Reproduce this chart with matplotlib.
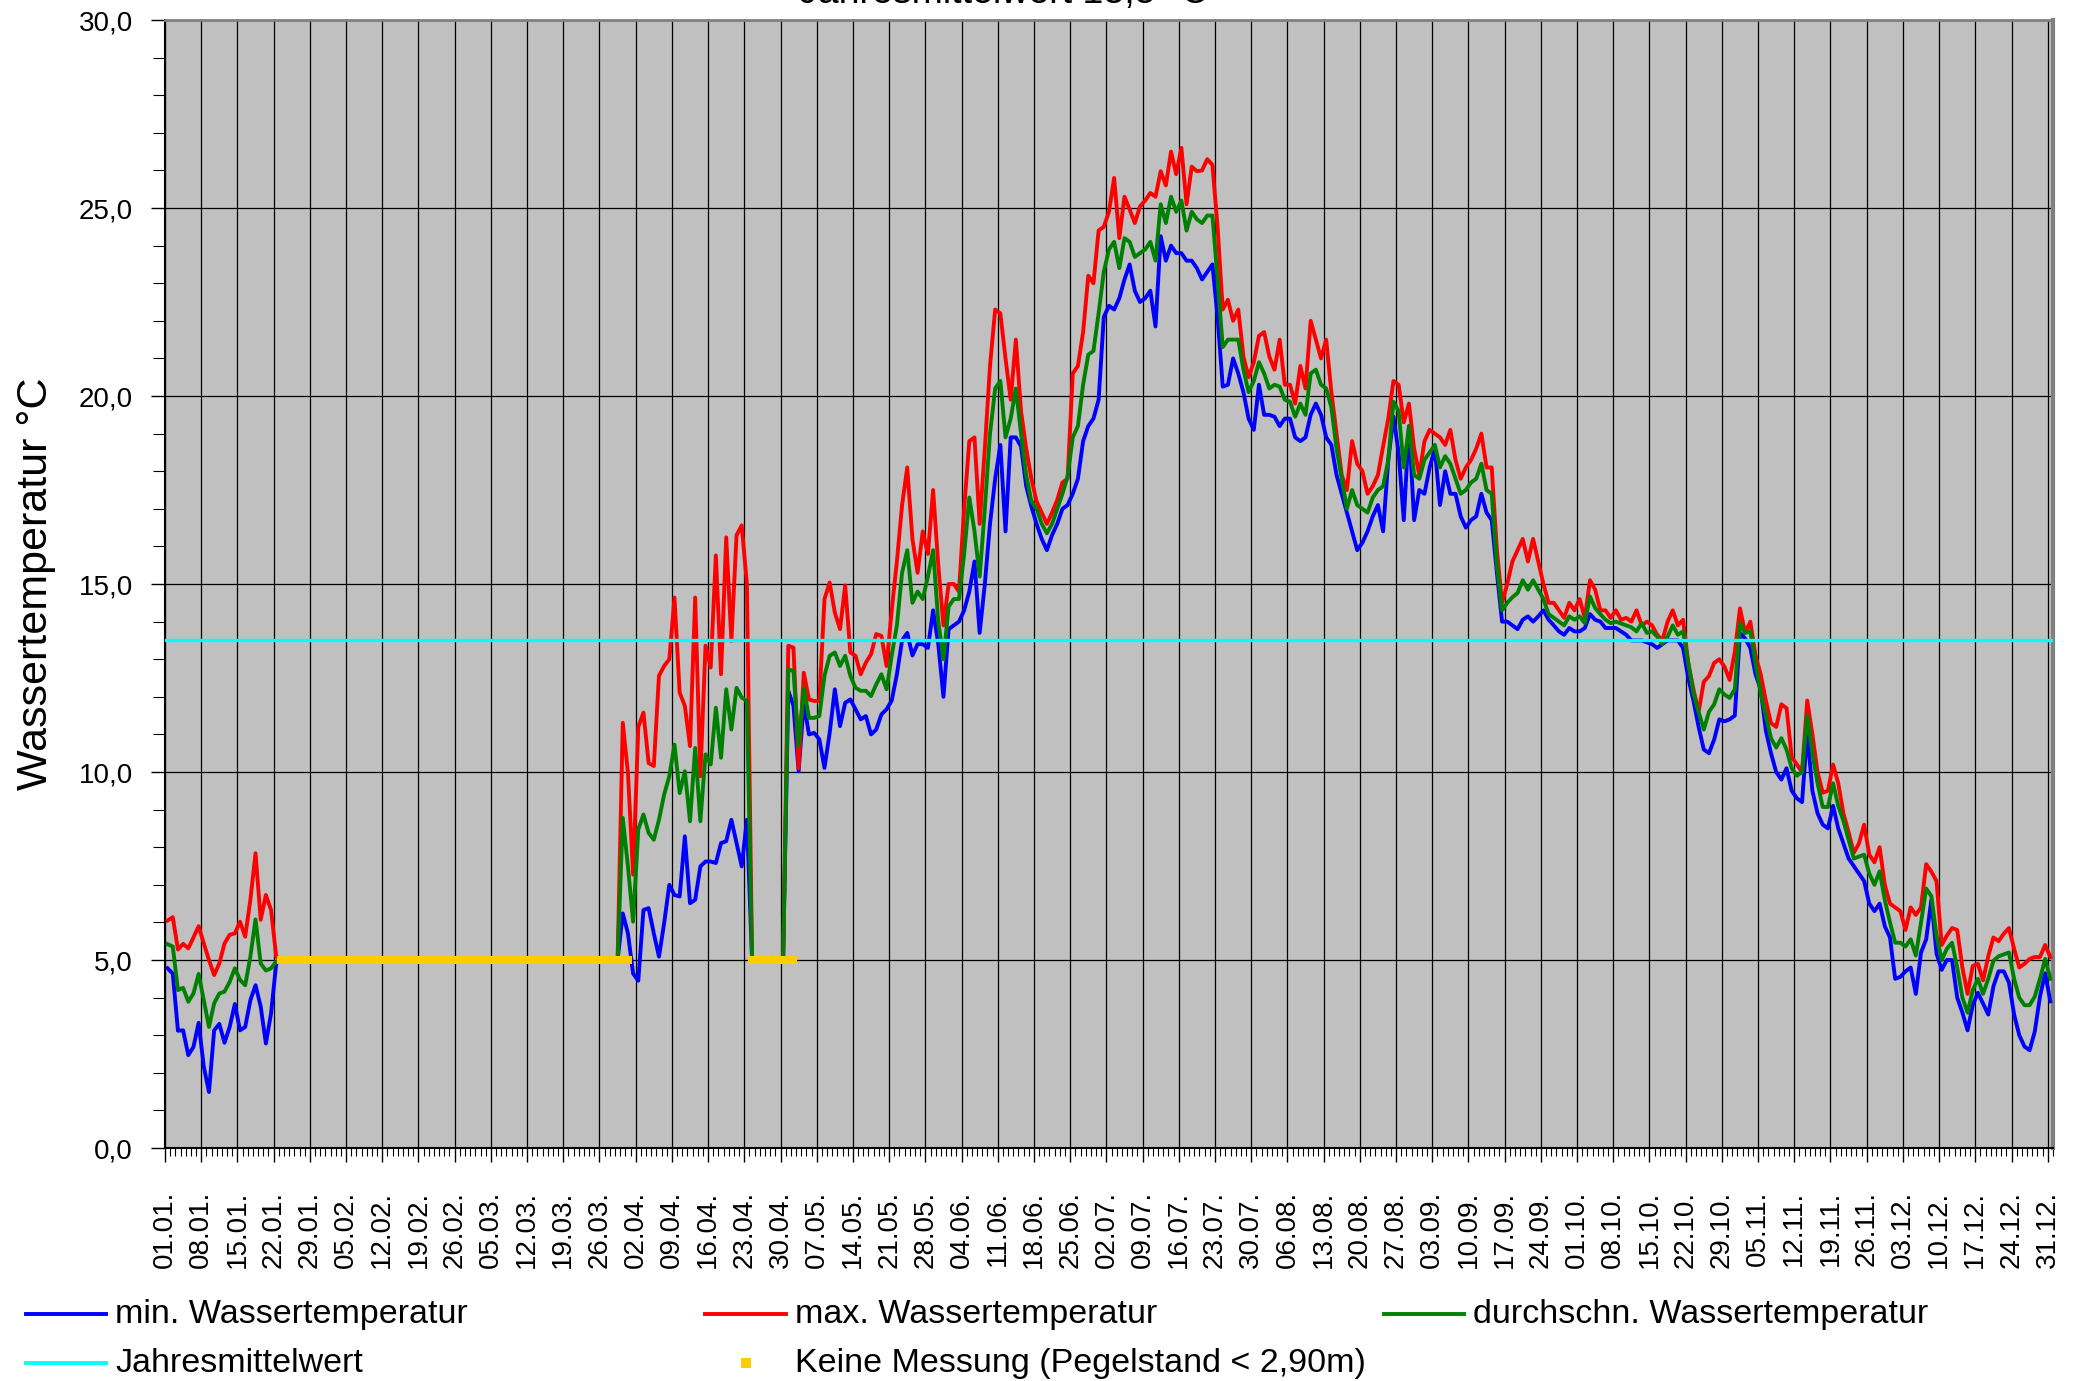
import numpy as np
import pandas as pd
import matplotlib
matplotlib.use("Agg")
import matplotlib.pyplot as plt
from matplotlib.lines import Line2D
from matplotlib.ticker import FixedLocator, FuncFormatter, MultipleLocator

plt.rcParams["font.family"] = ["Liberation Sans", "DejaVu Sans"]

# one value per day, None = no measurement (gauge level too low)
GAP = None
days = pd.date_range("2011-01-01", "2011-12-31", freq="D")

t_max = (
    # Jan
    [6.05, 6.14, 5.28, 5.43, 5.31, 5.6, 5.9, 5.44, 5.0, 4.6, 4.91, 5.44, 5.67, 5.71, 6.02, 5.62,
     6.6, 7.84, 6.07, 6.73, 6.33, 5.09] + [GAP] * 9
    + [GAP] * 28                                                  # Feb
    + [GAP] * 29 + [11.31, 9.98]                                  # Mar
    # Apr
    + [7.27, 11.2, 11.58, 10.24, 10.16, 12.56, 12.82, 13.0, 14.64, 12.11, 11.76, 10.69, 14.64,
       9.89, 13.36, 12.78, 15.76, 12.6, 16.24, 13.49, 16.3, 16.56, 15.0] + [GAP] * 7
    # May
    + [13.36, 13.31, 10.1, 12.64, 11.93, 11.89, 11.89, 14.6, 15.04, 14.24, 13.8, 14.96, 13.18,
       13.09, 12.6, 12.91, 13.13, 13.67, 13.62, 12.82, 14.3, 15.6, 17.1, 18.1, 16.2, 15.3, 16.4,
       15.8, 17.5, 15.5, 13.9]
    # Jun
    + [15.0, 15.0, 14.8, 17.0, 18.8, 18.9, 16.6, 18.6, 20.8, 22.3, 22.2, 21.0, 19.9, 21.5, 19.6,
       18.6, 17.8, 17.2, 16.9, 16.6, 16.9, 17.24, 17.7, 17.8, 20.6, 20.8, 21.7, 23.2, 23.0, 24.4]
    # Jul
    + [24.5, 24.9, 25.8, 24.2, 25.3, 24.96, 24.6, 25.04, 25.2, 25.4, 25.3, 25.98, 25.6, 26.5,
       25.9, 26.6, 25.1, 26.1, 25.98, 26.0, 26.3, 26.15, 24.5, 22.3, 22.56, 22.0, 22.3, 21.05,
       20.5, 20.9, 21.6]
    # Aug
    + [21.7, 21.05, 20.7, 21.5, 20.3, 20.3, 19.8, 20.8, 20.2, 22.0, 21.5, 21.0, 21.5, 20.1, 19.0,
       17.9, 17.5, 18.8, 18.2, 18.0, 17.4, 17.6, 17.9, 18.66, 19.4, 20.4, 20.3, 19.3, 19.8, 18.6,
       17.9]
    # Sep
    + [18.8, 19.1, 19.0, 18.9, 18.7, 19.1, 18.3, 17.8, 18.1, 18.3, 18.6, 19.0, 18.1, 18.1, 15.9,
       14.5, 15.0, 15.6, 15.9, 16.2, 15.6, 16.2, 15.6, 15.0, 14.5, 14.5, 14.3, 14.1, 14.5, 14.3]
    # Oct
    + [14.6, 14.1, 15.1, 14.85, 14.3, 14.3, 14.1, 14.3, 14.05, 14.1, 14.0, 14.3, 13.9, 14.0, 13.9,
       13.65, 13.5, 14.0, 14.3, 13.9, 14.05, 12.9, 12.2, 11.6, 12.4, 12.55, 12.9, 13.0, 12.8,
       12.45, 13.2]
    # Nov
    + [14.35, 13.7, 14.0, 13.1, 12.6, 11.9, 11.3, 11.2, 11.8, 11.7, 10.4, 10.2, 10.0, 11.9, 11.0,
       10.0, 9.45, 9.5, 10.2, 9.7, 8.9, 8.4, 7.85, 8.1, 8.6, 7.8, 7.6, 8.0, 7.0, 6.5]
    # Dec
    + [6.4, 6.3, 5.8, 6.4, 6.2, 6.4, 7.55, 7.35, 7.1, 5.4, 5.65, 5.85, 5.8, 4.8, 4.1, 4.84, 4.9,
       4.46, 5.1, 5.6, 5.5, 5.7, 5.85, 5.3, 4.8, 4.9, 5.03, 5.08, 5.08, 5.4, 5.08]
)

t_avg = (
    [5.42, 5.36, 4.2, 4.26, 3.89, 4.11, 4.63, 3.93, 3.22, 3.85, 4.11, 4.16, 4.42, 4.78, 4.47, 4.33,
     5.09, 6.08, 4.91, 4.72, 4.78, 4.96] + [GAP] * 9
    + [GAP] * 28
    + [GAP] * 29 + [8.78, 7.49]
    + [6.02, 8.47, 8.87, 8.38, 8.2, 8.73, 9.4, 9.89, 10.73, 9.44, 10.02, 8.69, 10.64, 8.69, 10.47,
       10.2, 11.71, 10.38, 12.2, 11.13, 12.24, 11.98, 11.89] + [GAP] * 7
    + [12.73, 12.69, 10.69, 12.24, 11.44, 11.44, 11.49, 12.56, 13.09, 13.18, 12.82, 13.09, 12.56,
       12.24, 12.16, 12.16, 12.02, 12.33, 12.6, 12.2, 13.1, 13.9, 15.3, 15.9, 14.5, 14.8, 14.6,
       15.2, 15.9, 14.0, 13.0]
    + [14.4, 14.6, 14.6, 15.8, 17.3, 16.4, 15.2, 17.0, 19.0, 20.2, 20.4, 18.9, 19.4, 20.2, 19.0,
       17.9, 17.2, 17.0, 16.6, 16.35, 16.6, 17.0, 17.4, 17.86, 18.9, 19.2, 20.3, 21.1, 21.2, 22.2]
    + [23.3, 23.9, 24.1, 23.4, 24.2, 24.1, 23.7, 23.8, 23.9, 24.1, 23.6, 25.1, 24.6, 25.3, 24.9,
       25.2, 24.4, 24.9, 24.7, 24.6, 24.8, 24.8, 23.1, 21.3, 21.5, 21.5, 21.5, 20.7, 20.1, 20.4,
       20.9]
    + [20.6, 20.2, 20.3, 20.25, 19.9, 19.85, 19.45, 19.8, 19.5, 20.6, 20.7, 20.3, 20.2, 19.7, 18.6,
       17.8, 17.0, 17.5, 17.1, 17.0, 16.9, 17.3, 17.5, 17.6, 18.3, 19.85, 19.6, 18.1, 19.2, 17.9,
       17.8]
    + [18.3, 18.5, 18.7, 18.1, 18.4, 18.2, 17.8, 17.4, 17.5, 17.7, 17.8, 18.2, 17.5, 17.4, 15.5,
       14.3, 14.5, 14.65, 14.76, 15.1, 14.85, 15.1, 14.85, 14.6, 14.2, 14.1, 14.0, 13.9, 14.14,
       14.05]
    + [14.14, 13.96, 14.67, 14.36, 14.2, 14.05, 13.96, 14.0, 13.95, 13.9, 13.85, 13.74, 13.96,
       13.7, 13.74, 13.6, 13.4, 13.6, 13.9, 13.65, 13.74, 12.9, 12.1, 11.6, 11.13, 11.6, 11.8,
       12.2, 12.06, 11.97, 12.2]
    + [13.96, 13.7, 13.74, 12.9, 12.1, 11.5, 10.9, 10.65, 10.9, 10.6, 10.1, 9.9, 10.0, 11.5, 10.5,
       9.7, 9.07, 9.07, 9.7, 9.1, 8.7, 8.2, 7.7, 7.75, 7.8, 7.3, 7.0, 7.36, 6.6, 6.0]
    + [5.46, 5.46, 5.36, 5.55, 5.12, 6.0, 6.9, 6.7, 5.65, 5.0, 5.3, 5.46, 4.8, 4.0, 3.6, 4.2, 4.5,
       4.1, 4.5, 4.98, 5.1, 5.15, 5.2, 4.5, 4.0, 3.8, 3.8, 4.03, 4.5, 5.03, 4.5]
)

t_min = (
    [4.78, 4.64, 3.12, 3.13, 2.47, 2.69, 3.33, 2.16, 1.49, 3.13, 3.3, 2.8, 3.22, 3.83, 3.13, 3.22,
     3.93, 4.33, 3.76, 2.78, 3.58, 4.91] + [GAP] * 9
    + [GAP] * 28
    + [GAP] * 29 + [6.24, 5.71]
    + [4.64, 4.45, 6.33, 6.38, 5.71, 5.09, 5.98, 7.0, 6.73, 6.69, 8.29, 6.51, 6.6, 7.49, 7.62,
       7.62, 7.58, 8.11, 8.16, 8.73, 8.11, 7.49, 8.73] + [GAP] * 7
    + [12.16, 11.76, 10.02, 11.84, 11.0, 11.04, 10.87, 10.11, 11.04, 12.2, 11.22, 11.84, 11.93,
       11.67, 11.4, 11.49, 11.0, 11.13, 11.53, 11.67, 11.9, 12.6, 13.5, 13.7, 13.1, 13.4, 13.4,
       13.3, 14.3, 13.4, 12.0]
    + [13.8, 13.9, 14.0, 14.3, 14.8, 15.6, 13.7, 15.0, 16.6, 17.8, 18.7, 16.4, 18.9, 18.9, 18.66,
       17.6, 17.06, 16.6, 16.2, 15.9, 16.3, 16.6, 17.0, 17.1, 17.4, 17.8, 18.8, 19.2, 19.4, 19.9]
    + [22.1, 22.4, 22.3, 22.6, 23.1, 23.5, 22.8, 22.5, 22.6, 22.8, 21.85, 24.25, 23.6, 24.0, 23.8,
       23.8, 23.6, 23.6, 23.4, 23.1, 23.3, 23.5, 22.1, 20.25, 20.3, 21.0, 20.6, 20.1, 19.4, 19.1,
       20.3]
    + [19.5, 19.5, 19.45, 19.2, 19.4, 19.4, 18.9, 18.8, 18.9, 19.5, 19.8, 19.5, 18.9, 18.7, 17.9,
       17.4, 16.9, 16.4, 15.9, 16.1, 16.4, 16.8, 17.1, 16.4, 18.3, 19.45, 18.5, 16.7, 19.2, 16.7,
       17.5]
    + [17.4, 18.1, 18.6, 17.1, 18.0, 17.4, 17.4, 16.8, 16.5, 16.7, 16.8, 17.4, 16.9, 16.7, 15.3,
       14.0, 14.0, 13.9, 13.8, 14.05, 14.14, 14.0, 14.14, 14.3, 14.05, 13.9, 13.74, 13.65, 13.83,
       13.74]
    + [13.74, 13.83, 14.2, 14.05, 14.0, 13.83, 13.83, 13.83, 13.74, 13.65, 13.5, 13.5, 13.5,
       13.45, 13.4, 13.3, 13.4, 13.5, 13.5, 13.5, 13.3, 12.5, 11.9, 11.2, 10.6, 10.5, 10.86, 11.4,
       11.35, 11.4, 11.5]
    + [13.7, 13.55, 13.3, 12.6, 12.2, 11.1, 10.5, 10.0, 9.8, 10.1, 9.5, 9.3, 9.2, 11.06, 9.5, 8.9,
       8.6, 8.5, 9.1, 8.5, 8.1, 7.7, 7.5, 7.3, 7.1, 6.5, 6.3, 6.5, 5.9, 5.6]
    + [4.5, 4.55, 4.7, 4.8, 4.1, 5.2, 5.55, 6.6, 5.17, 4.74, 5.0, 5.0, 4.0, 3.6, 3.13, 3.8, 4.13,
       3.84, 3.55, 4.3, 4.7, 4.7, 4.4, 3.55, 3.0, 2.7, 2.6, 3.1, 4.03, 4.65, 3.9]
)

jahresmittel = 13.5
keine_messung_level = 5.0
keine_messung = [("23.01.", "31.03."), ("24.04.", "02.05.")]

labels = ["min. Wassertemperatur", "max. Wassertemperatur", "durchschn. Wassertemperatur",
          "Jahresmittelwert", "Keine Messung (Pegelstand < 2,90m)"]
colors = ["#0000FF", "#FF0000", "#008000", "#00FFFF", "#FFCC00"]


def to_array(values):
    a = np.array([np.nan if v is None else v for v in values], dtype=float)
    assert len(a) == len(days)
    # the spreadsheet puts missing days on the "Keine Messung" level
    return np.where(np.isnan(a), keine_messung_level, a)


x = np.arange(len(days)) + 0.5
day_str = list(days.strftime("%d.%m."))
km_days = []
for start, end in keine_messung:
    km_days.extend(range(day_str.index(start), day_str.index(end) + 1))
km_x = np.array(km_days) + 0.5

fig = plt.figure(figsize=(20.81, 13.81), dpi=100)
ax = fig.add_axes([0.0793, 0.1687, 0.9072, 0.8168])
ax.set_facecolor("#C0C0C0")

lw = 2.8
for vals, c, z in [(t_min, colors[0], 3), (t_max, colors[1], 4), (t_avg, colors[2], 5)]:
    ax.plot(x, to_array(vals), color=c, lw=lw, zorder=z, solid_joinstyle="round")
ax.axhline(jahresmittel, color=colors[3], lw=2.4, zorder=6)
ax.plot(km_x, np.full(len(km_x), keine_messung_level), ls="none", marker="s", ms=5.2,
        mew=0, color=colors[4], zorder=7)

ax.set_xlim(0, len(days))
ax.set_ylim(0, 30)
major = list(range(0, len(days), 7))
ax.xaxis.set_major_locator(FixedLocator(major))
ax.xaxis.set_minor_locator(MultipleLocator(1))
ax.set_xticklabels([day_str[i] for i in major], rotation=90, fontsize=20)
ax.yaxis.set_major_locator(MultipleLocator(5))
ax.yaxis.set_minor_locator(MultipleLocator(1))
ax.yaxis.set_major_formatter(FuncFormatter(lambda v, p: f"{v:.1f}".replace(".", ",")))
ax.tick_params(axis="x", which="major", length=10, width=1, pad=21, labelsize=20)
ax.tick_params(axis="x", which="minor", length=6, width=0.8)
ax.tick_params(axis="y", which="major", length=10, width=1, pad=13, labelsize=20)
ax.tick_params(axis="y", which="minor", length=9, width=0.8)

ax.grid(True, which="major", color="black", lw=0.9)
ax.set_axisbelow(True)
for s in ["left", "bottom"]:
    ax.spines[s].set_color("black")
    ax.spines[s].set_linewidth(1.5)
ax.spines["top"].set_color("#808080")
ax.spines["top"].set_linewidth(2)
ax.spines["right"].set_color("#808080")
ax.spines["right"].set_linewidth(3)

ax.set_ylabel("Wassertemperatur °C", fontsize=31)
ax.yaxis.set_label_coords(-0.058, 0.5)

fig.text(0.482, 0.9978, f"Jahresmittelwert {jahresmittel:.1f} °C".replace(".", ","),
         ha="center", va="baseline", fontsize=27)

# legend laid out like the spreadsheet: 3 columns, 2 rows
cols = [0.0125, 0.339, 0.665]
rows = [0.0485, 0.013]
hlen = 0.0385
for i, (lab, c) in enumerate(zip(labels, colors)):
    x0, y0 = cols[i % 3], rows[i // 3]
    if i < 4:
        fig.add_artist(Line2D([x0, x0 + hlen], [y0, y0], color=c, lw=2.8))
    else:
        fig.add_artist(Line2D([x0 + hlen / 2], [y0], marker="s", ms=7, mew=0, color=c, ls="none"))
    fig.text(x0 + hlen + 0.0043, y0, lab, ha="left", va="center", fontsize=24.5)

fig.savefig("out.png", dpi=100, facecolor="white")
